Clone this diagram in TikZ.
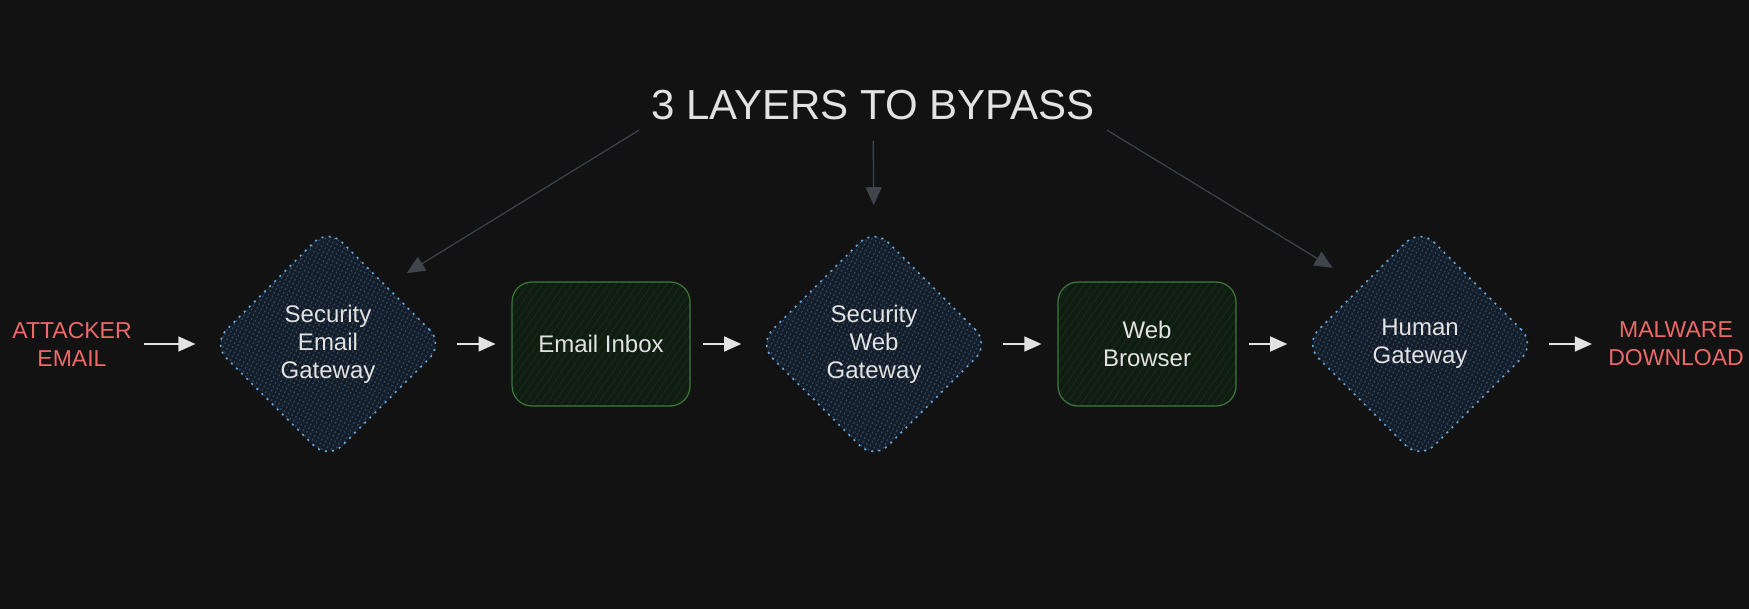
\documentclass[tikz,border=0pt]{standalone}
\usepackage{fontspec}
\setmainfont{Liberation Sans}
\usetikzlibrary{arrows.meta,shapes.geometric,patterns.meta,positioning}
\definecolor{bgcol}{HTML}{121212}
\definecolor{inkcol}{HTML}{E2E2E2}
\definecolor{redcol}{HTML}{EE6A6A}
\definecolor{gatefill}{HTML}{141D28}
\definecolor{gatehatch}{HTML}{2B4763}
\definecolor{gateline}{HTML}{66AAE2}
\definecolor{stagefill}{HTML}{0F1D10}
\definecolor{stagehatch}{HTML}{18291A}
\definecolor{stageline}{HTML}{3C7A3A}
\definecolor{hintcol}{HTML}{40454C}
\tikzset{
    gate/.style = {diamond, draw=gateline, line width=0.8pt,
        dash pattern=on 1pt off 2.6pt, rounded corners=10pt,
        minimum width=116pt, minimum height=116pt, inner sep=0pt,
        preaction={fill=gatefill},
        pattern={Lines[angle=63,distance=2.1pt,line width=0.6pt]},
        pattern color=gatehatch,
        text=inkcol, align=center, font=\fontsize{12}{14}\selectfont},
    stage/.style = {rectangle, draw=stageline, line width=0.6pt,
        rounded corners=10pt, minimum width=89pt, minimum height=62pt,
        preaction={fill=stagefill},
        pattern={Lines[angle=55,distance=3pt,line width=0.5pt]},
        pattern color=stagehatch,
        text=inkcol, align=center, font=\fontsize{12}{14}\selectfont},
    redtext/.style = {text=redcol, align=center, inner sep=0pt,
        font=\fontsize{11.5}{14}\selectfont},
    heading/.style = {text=inkcol, font=\fontsize{21}{24}\selectfont},
    flow/.style = {draw=inkcol, line width=0.7pt,
        -{Triangle[length=8.5pt,width=7.5pt]}, shorten <=6pt, shorten >=8pt},
    hint/.style = {draw=hintcol, line width=0.6pt,
        -{Triangle[length=9pt,width=8pt]}, shorten <=3pt}
}

\begin{document}
\begin{tikzpicture}[x=0.5pt, y=-0.5pt, node distance=136.5pt]
    \fill [bgcol] (0,0) rectangle (1749,609);
    \useasboundingbox (0,0) rectangle (1749,609);
    % main chain
    \node [redtext] (attacker) at (72,344) {ATTACKER\\EMAIL};
    \node [gate, right of=attacker, node distance=128pt] (seg) {Security\\Email\\Gateway};
    \node [stage, right of=seg] (inbox) {Email Inbox};
    \node [gate, right of=inbox] (swg) {Security\\Web\\Gateway};
    \node [stage, right of=swg] (browser) {Web\\Browser};
    \node [gate, right of=browser] (human) {Human\\Gateway};
    \node [redtext, right of=human, node distance=128pt] (malware) {MALWARE\\DOWNLOAD};
    \draw [flow] (attacker) -- (seg);
    \draw [flow] (seg) -- (inbox);
    \draw [flow] (inbox) -- (swg);
    \draw [flow] (swg) -- (browser);
    \draw [flow] (browser) -- (human);
    \draw [flow] (human) -- (malware);
    % title and pointers
    \node [heading] (title) at (873,105) {3 LAYERS TO BYPASS};
    \draw [hint, shorten >=12pt] (title.south west) -- (seg.north east);
    \draw [hint, shorten <=7pt, shorten >=11pt] (title.south) -- (swg.north);
    \draw [hint, shorten >=17pt] (title.south east) -- (human.north west);
\end{tikzpicture}
\end{document}
